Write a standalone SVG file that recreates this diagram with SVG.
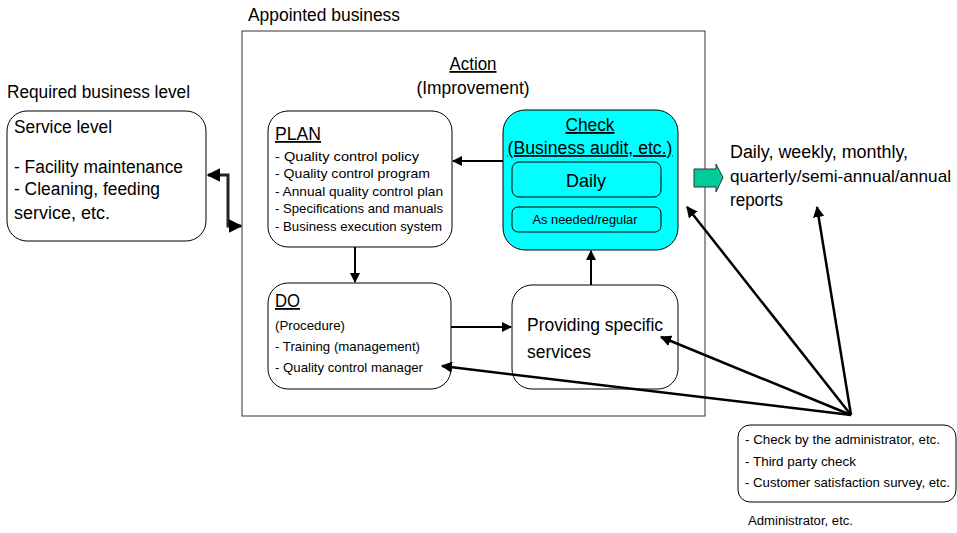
<svg xmlns="http://www.w3.org/2000/svg" width="957" height="533" viewBox="0 0 957 533">
<style>
text{font-family:"Liberation Sans",Arial,sans-serif;fill:#000}
.big{font-size:18px}
.sm{font-size:13.5px}
.u{text-decoration:underline}
.box{fill:#fff;stroke:#000;stroke-width:1}
.cy{fill:#00ffff;stroke:#000;stroke-width:1}
.ln{fill:none;stroke:#000;stroke-width:2}
.lt{fill:none;stroke:#000;stroke-width:2.5}
</style>
<defs>
<marker id="ah" viewBox="0 0 10 10" refX="9" refY="5" markerWidth="5" markerHeight="5" orient="auto-start-reverse" markerUnits="strokeWidth">
<path d="M0,0 L10,5 L0,10 z" fill="#000"/>
</marker>
<marker id="ah2" viewBox="0 0 10 10" refX="9" refY="5" markerWidth="4.5" markerHeight="4.5" orient="auto-start-reverse" markerUnits="strokeWidth">
<path d="M0,0 L10,5 L0,10 z" fill="#000"/>
</marker>
</defs>
<rect width="957" height="533" fill="#fff"/>

<g id="appointed">
<rect x="242" y="31" width="463" height="385" fill="none" stroke="#333" stroke-width="1"/>
<text x="248" y="21" class="big" textLength="152" lengthAdjust="spacingAndGlyphs">Appointed business</text>
<text x="473" y="70" class="big u" text-anchor="middle" textLength="47" lengthAdjust="spacingAndGlyphs">Action</text>
<text x="473" y="94" class="big" text-anchor="middle" textLength="113" lengthAdjust="spacingAndGlyphs">(Improvement)</text>
</g>

<g id="service">
<text x="7" y="98" class="big" textLength="183" lengthAdjust="spacingAndGlyphs">Required business level</text>
<rect x="7" y="111" width="199" height="130" rx="20" class="box"/>
<text x="14" y="133" class="big" textLength="98" lengthAdjust="spacingAndGlyphs">Service level</text>
<text x="14" y="173" class="big" textLength="169" lengthAdjust="spacingAndGlyphs">- Facility maintenance</text>
<text x="14" y="195" class="big" textLength="146" lengthAdjust="spacingAndGlyphs">- Cleaning, feeding</text>
<text x="14" y="219" class="big" textLength="96" lengthAdjust="spacingAndGlyphs">service, etc.</text>
</g>

<g id="plan">
<rect x="268" y="111" width="184" height="136" rx="20" class="box"/>
<text x="275" y="140" class="big u" textLength="46" lengthAdjust="spacingAndGlyphs">PLAN</text>
<text x="275" y="161" class="sm" textLength="144" lengthAdjust="spacingAndGlyphs">- Quality control policy</text>
<text x="275" y="178" class="sm" textLength="155" lengthAdjust="spacingAndGlyphs">- Quality control program</text>
<text x="275" y="196" class="sm" textLength="168" lengthAdjust="spacingAndGlyphs">- Annual quality control plan</text>
<text x="275" y="213" class="sm" textLength="168" lengthAdjust="spacingAndGlyphs">- Specifications and manuals</text>
<text x="275" y="231" class="sm" textLength="167" lengthAdjust="spacingAndGlyphs">- Business execution system</text>
</g>

<g id="check">
<rect x="503" y="110" width="175" height="140" rx="22" class="cy"/>
<text x="590" y="131" class="big u" text-anchor="middle" textLength="49" lengthAdjust="spacingAndGlyphs">Check</text>
<text x="590" y="154" class="big u" text-anchor="middle" textLength="165" lengthAdjust="spacingAndGlyphs">(Business audit, etc.)</text>
<rect x="512" y="162" width="149" height="35" rx="7" class="cy"/>
<text x="586" y="187" font-size="19" text-anchor="middle" textLength="40" lengthAdjust="spacingAndGlyphs">Daily</text>
<rect x="512" y="207" width="149" height="25" rx="6" class="cy"/>
<text x="585" y="224" font-size="13.5" text-anchor="middle" textLength="105" lengthAdjust="spacingAndGlyphs">As needed/regular</text>
</g>

<g id="do">
<rect x="268" y="283" width="183" height="106" rx="20" class="box"/>
<text x="275" y="307" class="big u" textLength="25" lengthAdjust="spacingAndGlyphs">DO</text>
<text x="275" y="330" class="sm" textLength="70" lengthAdjust="spacingAndGlyphs">(Procedure)</text>
<text x="275" y="351" class="sm" textLength="145" lengthAdjust="spacingAndGlyphs">- Training (management)</text>
<text x="275" y="372" class="sm" textLength="148" lengthAdjust="spacingAndGlyphs">- Quality control manager</text>
</g>

<g id="providing">
<rect x="512" y="285" width="166" height="104" rx="20" class="box"/>
<text x="527" y="331" class="big" textLength="136" lengthAdjust="spacingAndGlyphs">Providing specific</text>
<text x="527" y="358" class="big" textLength="64" lengthAdjust="spacingAndGlyphs">services</text>
</g>

<g id="reports">
<path d="M694,169 H716 V164 L723,177.5 L716,192 V187 H694 Z" fill="#00cc99" stroke="#333" stroke-width="1"/>
<text x="730" y="158" class="big" textLength="178" lengthAdjust="spacingAndGlyphs">Daily, weekly, monthly,</text>
<text x="730" y="182" font-size="17" textLength="221" lengthAdjust="spacingAndGlyphs">quarterly/semi-annual/annual</text>
<text x="730" y="206" class="big" textLength="53" lengthAdjust="spacingAndGlyphs">reports</text>
</g>

<g id="admin">
<rect x="738" y="425" width="218" height="77" rx="12" class="box"/>
<text x="745" y="444" class="sm" textLength="195" lengthAdjust="spacingAndGlyphs">- Check by the administrator, etc.</text>
<text x="745" y="466" class="sm" textLength="111" lengthAdjust="spacingAndGlyphs">- Third party check</text>
<text x="745" y="487" class="sm" textLength="205" lengthAdjust="spacingAndGlyphs">- Customer satisfaction survey, etc.</text>
<text x="748" y="525" font-size="12.5" textLength="105" lengthAdjust="spacingAndGlyphs">Administrator, etc.</text>
</g>

<g id="connectors">
<path d="M241,226 H228 V175 H208" fill="none" stroke="#222" stroke-width="3" marker-start="url(#ah2)" marker-end="url(#ah2)"/>
<line x1="503" y1="161" x2="453" y2="161" class="ln" marker-end="url(#ah)"/>
<line x1="355" y1="247" x2="355" y2="282" class="ln" marker-end="url(#ah)"/>
<line x1="451" y1="327" x2="511" y2="327" class="ln" marker-end="url(#ah)"/>
<line x1="591" y1="285" x2="591" y2="251" class="ln" marker-end="url(#ah)"/>
<line x1="851" y1="415" x2="687" y2="207" class="lt" marker-end="url(#ah2)"/>
<line x1="851" y1="415" x2="817" y2="207" class="lt" marker-end="url(#ah2)"/>
<line x1="851" y1="415" x2="661" y2="337" class="lt" marker-end="url(#ah2)"/>
<line x1="851" y1="415" x2="442" y2="366" class="lt" marker-end="url(#ah2)"/>
</g>
</svg>
